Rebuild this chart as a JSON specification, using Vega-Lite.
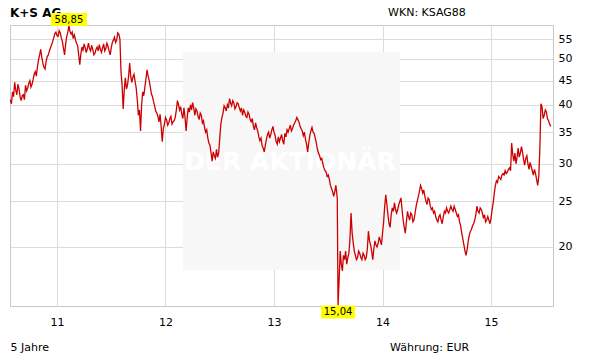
{
  "$schema": "https://vega.github.io/schema/vega-lite/v6.json",
  "width": 543,
  "height": 281,
  "autosize": "none",
  "padding": {"left": 10, "top": 25, "right": 58, "bottom": 58},
  "background": "white",
  "config": {
    "view": {"stroke": "#c8c8c8"},
    "font": "DejaVu Sans",
    "axis": {"labelFont": "DejaVu Sans", "titleFont": "DejaVu Sans", "labelColor": "#000000", "titleColor": "#000000"}
  },
  "datasets": {
    "kurs": [
      {"jahr": 2010.57, "wert": 41.0}, {"jahr": 2010.59, "wert": 42.6}, {"jahr": 2010.61, "wert": 44.6}, {"jahr": 2010.63, "wert": 42.0},
      {"jahr": 2010.65, "wert": 43.2}, {"jahr": 2010.67, "wert": 40.8}, {"jahr": 2010.69, "wert": 42.0}, {"jahr": 2010.71, "wert": 44.0},
      {"jahr": 2010.73, "wert": 43.4}, {"jahr": 2010.75, "wert": 45.0}, {"jahr": 2010.77, "wert": 44.2}, {"jahr": 2010.79, "wert": 46.4},
      {"jahr": 2010.81, "wert": 46.0}, {"jahr": 2010.83, "wert": 49.8}, {"jahr": 2010.85, "wert": 52.4}, {"jahr": 2010.87, "wert": 49.0},
      {"jahr": 2010.89, "wert": 47.6}, {"jahr": 2010.91, "wert": 50.6}, {"jahr": 2010.93, "wert": 52.0}, {"jahr": 2010.95, "wert": 53.6},
      {"jahr": 2010.97, "wert": 55.4}, {"jahr": 2010.99, "wert": 57.0}, {"jahr": 2011.01, "wert": 55.8}, {"jahr": 2011.03, "wert": 56.8},
      {"jahr": 2011.05, "wert": 54.4}, {"jahr": 2011.07, "wert": 51.0}, {"jahr": 2011.09, "wert": 55.8}, {"jahr": 2011.11, "wert": 58.85},
      {"jahr": 2011.13, "wert": 56.4}, {"jahr": 2011.15, "wert": 55.2}, {"jahr": 2011.17, "wert": 55.0}, {"jahr": 2011.19, "wert": 53.4},
      {"jahr": 2011.21, "wert": 48.6}, {"jahr": 2011.23, "wert": 53.0}, {"jahr": 2011.25, "wert": 53.8}, {"jahr": 2011.27, "wert": 51.6},
      {"jahr": 2011.29, "wert": 54.0}, {"jahr": 2011.31, "wert": 52.0}, {"jahr": 2011.33, "wert": 52.4}, {"jahr": 2011.35, "wert": 51.4},
      {"jahr": 2011.37, "wert": 53.0}, {"jahr": 2011.39, "wert": 53.6}, {"jahr": 2011.41, "wert": 51.6}, {"jahr": 2011.43, "wert": 53.8},
      {"jahr": 2011.45, "wert": 52.6}, {"jahr": 2011.47, "wert": 53.2}, {"jahr": 2011.49, "wert": 51.0}, {"jahr": 2011.51, "wert": 54.2},
      {"jahr": 2011.53, "wert": 55.6}, {"jahr": 2011.55, "wert": 54.8}, {"jahr": 2011.57, "wert": 56.4}, {"jahr": 2011.59, "wert": 47.0},
      {"jahr": 2011.61, "wert": 39.2}, {"jahr": 2011.63, "wert": 45.6}, {"jahr": 2011.65, "wert": 44.0}, {"jahr": 2011.67, "wert": 49.0},
      {"jahr": 2011.69, "wert": 44.6}, {"jahr": 2011.71, "wert": 46.4}, {"jahr": 2011.73, "wert": 43.4}, {"jahr": 2011.75, "wert": 38.0},
      {"jahr": 2011.77, "wert": 35.2}, {"jahr": 2011.79, "wert": 42.6}, {"jahr": 2011.81, "wert": 43.6}, {"jahr": 2011.83, "wert": 47.4},
      {"jahr": 2011.85, "wert": 45.0}, {"jahr": 2011.87, "wert": 42.2}, {"jahr": 2011.89, "wert": 40.6}, {"jahr": 2011.91, "wert": 38.8},
      {"jahr": 2011.93, "wert": 37.8}, {"jahr": 2011.95, "wert": 38.2}, {"jahr": 2011.97, "wert": 33.4}, {"jahr": 2011.99, "wert": 36.4},
      {"jahr": 2012.01, "wert": 37.2}, {"jahr": 2012.03, "wert": 36.6}, {"jahr": 2012.05, "wert": 37.8}, {"jahr": 2012.07, "wert": 36.8},
      {"jahr": 2012.09, "wert": 37.6}, {"jahr": 2012.11, "wert": 40.8}, {"jahr": 2012.13, "wert": 39.0}, {"jahr": 2012.15, "wert": 38.2},
      {"jahr": 2012.17, "wert": 39.4}, {"jahr": 2012.19, "wert": 35.2}, {"jahr": 2012.21, "wert": 39.4}, {"jahr": 2012.23, "wert": 40.0},
      {"jahr": 2012.25, "wert": 40.4}, {"jahr": 2012.27, "wert": 38.0}, {"jahr": 2012.29, "wert": 38.8}, {"jahr": 2012.31, "wert": 37.2},
      {"jahr": 2012.33, "wert": 38.0}, {"jahr": 2012.35, "wert": 37.0}, {"jahr": 2012.37, "wert": 35.0}, {"jahr": 2012.39, "wert": 34.0},
      {"jahr": 2012.41, "wert": 32.8}, {"jahr": 2012.43, "wert": 30.4}, {"jahr": 2012.45, "wert": 31.2}, {"jahr": 2012.47, "wert": 32.2},
      {"jahr": 2012.49, "wert": 31.6}, {"jahr": 2012.51, "wert": 36.4}, {"jahr": 2012.53, "wert": 38.4}, {"jahr": 2012.55, "wert": 39.4},
      {"jahr": 2012.57, "wert": 40.0}, {"jahr": 2012.59, "wert": 41.2}, {"jahr": 2012.61, "wert": 39.8}, {"jahr": 2012.63, "wert": 40.4},
      {"jahr": 2012.65, "wert": 39.6}, {"jahr": 2012.67, "wert": 40.2}, {"jahr": 2012.69, "wert": 38.8}, {"jahr": 2012.71, "wert": 38.0},
      {"jahr": 2012.73, "wert": 38.6}, {"jahr": 2012.75, "wert": 37.6}, {"jahr": 2012.77, "wert": 38.2}, {"jahr": 2012.79, "wert": 36.8},
      {"jahr": 2012.81, "wert": 36.0}, {"jahr": 2012.83, "wert": 36.6}, {"jahr": 2012.85, "wert": 35.2}, {"jahr": 2012.87, "wert": 33.6},
      {"jahr": 2012.89, "wert": 32.8}, {"jahr": 2012.91, "wert": 31.8}, {"jahr": 2012.93, "wert": 33.8}, {"jahr": 2012.95, "wert": 35.0},
      {"jahr": 2012.97, "wert": 34.6}, {"jahr": 2012.99, "wert": 36.0}, {"jahr": 2013.01, "wert": 34.4}, {"jahr": 2013.03, "wert": 33.0},
      {"jahr": 2013.05, "wert": 33.4}, {"jahr": 2013.07, "wert": 34.6}, {"jahr": 2013.09, "wert": 33.0}, {"jahr": 2013.11, "wert": 34.2},
      {"jahr": 2013.13, "wert": 35.0}, {"jahr": 2013.15, "wert": 36.2}, {"jahr": 2013.17, "wert": 35.6}, {"jahr": 2013.19, "wert": 36.6},
      {"jahr": 2013.21, "wert": 37.6}, {"jahr": 2013.23, "wert": 36.8}, {"jahr": 2013.25, "wert": 35.6}, {"jahr": 2013.27, "wert": 34.4},
      {"jahr": 2013.29, "wert": 33.8}, {"jahr": 2013.31, "wert": 31.8}, {"jahr": 2013.33, "wert": 34.4}, {"jahr": 2013.35, "wert": 35.8},
      {"jahr": 2013.37, "wert": 34.8}, {"jahr": 2013.39, "wert": 33.2}, {"jahr": 2013.41, "wert": 31.6}, {"jahr": 2013.43, "wert": 30.6},
      {"jahr": 2013.45, "wert": 30.0}, {"jahr": 2013.47, "wert": 29.0}, {"jahr": 2013.49, "wert": 28.2}, {"jahr": 2013.51, "wert": 27.8},
      {"jahr": 2013.53, "wert": 26.6}, {"jahr": 2013.55, "wert": 25.6}, {"jahr": 2013.57, "wert": 27.0}, {"jahr": 2013.583, "wert": 25.4},
      {"jahr": 2013.59, "wert": 15.04}, {"jahr": 2013.61, "wert": 19.6}, {"jahr": 2013.63, "wert": 17.8}, {"jahr": 2013.65, "wert": 18.8},
      {"jahr": 2013.67, "wert": 18.4}, {"jahr": 2013.69, "wert": 19.4}, {"jahr": 2013.71, "wert": 23.6}, {"jahr": 2013.73, "wert": 20.4},
      {"jahr": 2013.75, "wert": 19.2}, {"jahr": 2013.77, "wert": 19.0}, {"jahr": 2013.79, "wert": 19.4}, {"jahr": 2013.81, "wert": 18.8},
      {"jahr": 2013.83, "wert": 19.2}, {"jahr": 2013.85, "wert": 19.0}, {"jahr": 2013.87, "wert": 21.6}, {"jahr": 2013.89, "wert": 20.2},
      {"jahr": 2013.91, "wert": 18.8}, {"jahr": 2013.93, "wert": 20.6}, {"jahr": 2013.95, "wert": 20.0}, {"jahr": 2013.97, "wert": 21.0},
      {"jahr": 2013.99, "wert": 20.2}, {"jahr": 2014.01, "wert": 22.6}, {"jahr": 2014.03, "wert": 25.8}, {"jahr": 2014.05, "wert": 23.4},
      {"jahr": 2014.07, "wert": 22.0}, {"jahr": 2014.09, "wert": 24.2}, {"jahr": 2014.11, "wert": 24.8}, {"jahr": 2014.13, "wert": 23.6},
      {"jahr": 2014.15, "wert": 24.6}, {"jahr": 2014.17, "wert": 25.4}, {"jahr": 2014.19, "wert": 22.8}, {"jahr": 2014.21, "wert": 21.4},
      {"jahr": 2014.23, "wert": 23.8}, {"jahr": 2014.25, "wert": 22.8}, {"jahr": 2014.27, "wert": 23.4}, {"jahr": 2014.29, "wert": 22.8},
      {"jahr": 2014.31, "wert": 24.4}, {"jahr": 2014.33, "wert": 25.6}, {"jahr": 2014.35, "wert": 27.0}, {"jahr": 2014.37, "wert": 26.0},
      {"jahr": 2014.39, "wert": 25.6}, {"jahr": 2014.41, "wert": 24.6}, {"jahr": 2014.43, "wert": 25.2}, {"jahr": 2014.45, "wert": 24.0},
      {"jahr": 2014.47, "wert": 23.6}, {"jahr": 2014.49, "wert": 23.2}, {"jahr": 2014.51, "wert": 22.6}, {"jahr": 2014.53, "wert": 23.4},
      {"jahr": 2014.55, "wert": 22.4}, {"jahr": 2014.57, "wert": 23.8}, {"jahr": 2014.59, "wert": 24.2}, {"jahr": 2014.61, "wert": 23.6},
      {"jahr": 2014.63, "wert": 24.4}, {"jahr": 2014.65, "wert": 23.8}, {"jahr": 2014.67, "wert": 24.0}, {"jahr": 2014.69, "wert": 23.2},
      {"jahr": 2014.71, "wert": 22.6}, {"jahr": 2014.73, "wert": 21.4}, {"jahr": 2014.75, "wert": 20.2}, {"jahr": 2014.77, "wert": 19.2},
      {"jahr": 2014.79, "wert": 20.6}, {"jahr": 2014.81, "wert": 21.6}, {"jahr": 2014.83, "wert": 22.2}, {"jahr": 2014.85, "wert": 22.8},
      {"jahr": 2014.87, "wert": 24.4}, {"jahr": 2014.89, "wert": 23.6}, {"jahr": 2014.91, "wert": 24.0}, {"jahr": 2014.93, "wert": 23.0},
      {"jahr": 2014.95, "wert": 22.6}, {"jahr": 2014.97, "wert": 23.2}, {"jahr": 2014.99, "wert": 22.4}, {"jahr": 2015.01, "wert": 24.0},
      {"jahr": 2015.03, "wert": 26.0}, {"jahr": 2015.05, "wert": 27.6}, {"jahr": 2015.07, "wert": 28.2}, {"jahr": 2015.09, "wert": 27.8},
      {"jahr": 2015.11, "wert": 28.6}, {"jahr": 2015.13, "wert": 29.0}, {"jahr": 2015.15, "wert": 28.8}, {"jahr": 2015.17, "wert": 29.4},
      {"jahr": 2015.19, "wert": 33.2}, {"jahr": 2015.21, "wert": 30.4}, {"jahr": 2015.23, "wert": 30.0}, {"jahr": 2015.25, "wert": 32.4},
      {"jahr": 2015.27, "wert": 31.6}, {"jahr": 2015.29, "wert": 31.8}, {"jahr": 2015.31, "wert": 29.8}, {"jahr": 2015.33, "wert": 31.2},
      {"jahr": 2015.35, "wert": 29.2}, {"jahr": 2015.37, "wert": 29.6}, {"jahr": 2015.39, "wert": 28.4}, {"jahr": 2015.41, "wert": 28.6},
      {"jahr": 2015.43, "wert": 27.0}, {"jahr": 2015.45, "wert": 32.4}, {"jahr": 2015.47, "wert": 39.6}, {"jahr": 2015.49, "wert": 38.0},
      {"jahr": 2015.51, "wert": 38.6}, {"jahr": 2015.53, "wert": 37.0}, {"jahr": 2015.55, "wert": 36.0},

      {"jahr": 2010.58, "wert": 40.2}, {"jahr": 2010.60, "wert": 41.6}, {"jahr": 2010.62, "wert": 43.0}, {"jahr": 2010.64, "wert": 44.2},
      {"jahr": 2010.66, "wert": 41.6}, {"jahr": 2010.68, "wert": 41.8}, {"jahr": 2010.70, "wert": 41.0}, {"jahr": 2010.72, "wert": 42.8},
      {"jahr": 2010.74, "wert": 44.4}, {"jahr": 2010.76, "wert": 43.6}, {"jahr": 2010.78, "wert": 45.2}, {"jahr": 2010.80, "wert": 47.0},
      {"jahr": 2010.82, "wert": 48.2}, {"jahr": 2010.84, "wert": 51.0}, {"jahr": 2010.86, "wert": 50.4}, {"jahr": 2010.88, "wert": 48.0},
      {"jahr": 2010.90, "wert": 49.4}, {"jahr": 2010.92, "wert": 51.0}, {"jahr": 2010.94, "wert": 52.8}, {"jahr": 2010.96, "wert": 54.4},
      {"jahr": 2010.98, "wert": 56.6}, {"jahr": 2011.00, "wert": 56.0}, {"jahr": 2011.02, "wert": 57.4}, {"jahr": 2011.04, "wert": 55.4},
      {"jahr": 2011.06, "wert": 52.6}, {"jahr": 2011.08, "wert": 53.8}, {"jahr": 2011.10, "wert": 57.0}, {"jahr": 2011.12, "wert": 57.2},
      {"jahr": 2011.14, "wert": 57.0}, {"jahr": 2011.16, "wert": 56.2}, {"jahr": 2011.18, "wert": 54.0}, {"jahr": 2011.20, "wert": 51.0},
      {"jahr": 2011.22, "wert": 51.2}, {"jahr": 2011.24, "wert": 52.2}, {"jahr": 2011.26, "wert": 52.8}, {"jahr": 2011.28, "wert": 52.6},
      {"jahr": 2011.30, "wert": 52.6}, {"jahr": 2011.32, "wert": 53.4}, {"jahr": 2011.34, "wert": 51.0}, {"jahr": 2011.36, "wert": 52.4},
      {"jahr": 2011.38, "wert": 52.0}, {"jahr": 2011.40, "wert": 52.4}, {"jahr": 2011.42, "wert": 52.8}, {"jahr": 2011.44, "wert": 52.0},
      {"jahr": 2011.46, "wert": 54.0}, {"jahr": 2011.48, "wert": 52.0}, {"jahr": 2011.50, "wert": 52.8}, {"jahr": 2011.52, "wert": 54.8},
      {"jahr": 2011.54, "wert": 54.2}, {"jahr": 2011.56, "wert": 56.8}, {"jahr": 2011.58, "wert": 55.0}, {"jahr": 2011.60, "wert": 44.0},
      {"jahr": 2011.62, "wert": 43.0}, {"jahr": 2011.64, "wert": 43.2}, {"jahr": 2011.66, "wert": 46.0}, {"jahr": 2011.68, "wert": 45.8},
      {"jahr": 2011.70, "wert": 45.8}, {"jahr": 2011.72, "wert": 44.8}, {"jahr": 2011.74, "wert": 41.0}, {"jahr": 2011.76, "wert": 39.0},
      {"jahr": 2011.78, "wert": 40.0}, {"jahr": 2011.80, "wert": 41.8}, {"jahr": 2011.82, "wert": 45.4}, {"jahr": 2011.84, "wert": 46.0},
      {"jahr": 2011.86, "wert": 43.6}, {"jahr": 2011.88, "wert": 41.6}, {"jahr": 2011.90, "wert": 39.8}, {"jahr": 2011.92, "wert": 38.4},
      {"jahr": 2011.94, "wert": 36.8}, {"jahr": 2011.96, "wert": 36.0}, {"jahr": 2011.98, "wert": 35.6}, {"jahr": 2012.00, "wert": 37.6},
      {"jahr": 2012.02, "wert": 36.2}, {"jahr": 2012.04, "wert": 37.4}, {"jahr": 2012.06, "wert": 36.4}, {"jahr": 2012.08, "wert": 37.0},
      {"jahr": 2012.10, "wert": 39.0}, {"jahr": 2012.12, "wert": 40.0}, {"jahr": 2012.14, "wert": 39.6}, {"jahr": 2012.16, "wert": 37.4},
      {"jahr": 2012.18, "wert": 37.6}, {"jahr": 2012.20, "wert": 37.6}, {"jahr": 2012.22, "wert": 38.6}, {"jahr": 2012.24, "wert": 39.0},
      {"jahr": 2012.26, "wert": 39.4}, {"jahr": 2012.28, "wert": 39.2}, {"jahr": 2012.30, "wert": 37.8}, {"jahr": 2012.32, "wert": 38.4},
      {"jahr": 2012.34, "wert": 36.6}, {"jahr": 2012.36, "wert": 35.8}, {"jahr": 2012.38, "wert": 35.4}, {"jahr": 2012.40, "wert": 33.2},
      {"jahr": 2012.42, "wert": 31.6}, {"jahr": 2012.44, "wert": 31.8}, {"jahr": 2012.46, "wert": 30.8}, {"jahr": 2012.48, "wert": 31.0},
      {"jahr": 2012.50, "wert": 34.0}, {"jahr": 2012.52, "wert": 37.6}, {"jahr": 2012.54, "wert": 39.8}, {"jahr": 2012.56, "wert": 38.8},
      {"jahr": 2012.58, "wert": 39.4}, {"jahr": 2012.60, "wert": 40.4}, {"jahr": 2012.62, "wert": 40.8}, {"jahr": 2012.64, "wert": 39.2},
      {"jahr": 2012.66, "wert": 40.4}, {"jahr": 2012.68, "wert": 39.4}, {"jahr": 2012.70, "wert": 39.4}, {"jahr": 2012.72, "wert": 39.0},
      {"jahr": 2012.74, "wert": 37.8}, {"jahr": 2012.76, "wert": 38.6}, {"jahr": 2012.78, "wert": 37.2}, {"jahr": 2012.80, "wert": 37.4},
      {"jahr": 2012.82, "wert": 35.4}, {"jahr": 2012.84, "wert": 35.8}, {"jahr": 2012.86, "wert": 34.2}, {"jahr": 2012.88, "wert": 34.0},
      {"jahr": 2012.90, "wert": 32.4}, {"jahr": 2012.92, "wert": 32.8}, {"jahr": 2012.94, "wert": 34.6}, {"jahr": 2012.96, "wert": 34.0},
      {"jahr": 2012.98, "wert": 35.4}, {"jahr": 2013.00, "wert": 35.0}, {"jahr": 2013.02, "wert": 33.4}, {"jahr": 2013.04, "wert": 34.2},
      {"jahr": 2013.06, "wert": 34.0}, {"jahr": 2013.08, "wert": 33.6}, {"jahr": 2013.10, "wert": 34.8}, {"jahr": 2013.12, "wert": 35.4},
      {"jahr": 2013.14, "wert": 35.6}, {"jahr": 2013.16, "wert": 35.2}, {"jahr": 2013.18, "wert": 36.2}, {"jahr": 2013.20, "wert": 37.0},
      {"jahr": 2013.22, "wert": 37.2}, {"jahr": 2013.24, "wert": 36.0}, {"jahr": 2013.26, "wert": 35.2}, {"jahr": 2013.28, "wert": 35.0},
      {"jahr": 2013.30, "wert": 33.0}, {"jahr": 2013.32, "wert": 33.2}, {"jahr": 2013.34, "wert": 35.2}, {"jahr": 2013.36, "wert": 35.0},
      {"jahr": 2013.38, "wert": 34.0}, {"jahr": 2013.40, "wert": 32.2}, {"jahr": 2013.42, "wert": 31.2}, {"jahr": 2013.44, "wert": 30.8},
      {"jahr": 2013.46, "wert": 29.4}, {"jahr": 2013.48, "wert": 28.8}, {"jahr": 2013.50, "wert": 28.4}, {"jahr": 2013.52, "wert": 27.0},
      {"jahr": 2013.54, "wert": 26.2}, {"jahr": 2013.56, "wert": 26.2}, {"jahr": 2013.60, "wert": 17.0}, {"jahr": 2013.62, "wert": 18.4},
      {"jahr": 2013.64, "wert": 19.2}, {"jahr": 2013.66, "wert": 19.6}, {"jahr": 2013.68, "wert": 19.0}, {"jahr": 2013.70, "wert": 20.8},
      {"jahr": 2013.72, "wert": 21.4}, {"jahr": 2013.74, "wert": 19.6}, {"jahr": 2013.76, "wert": 18.8}, {"jahr": 2013.78, "wert": 19.6},
      {"jahr": 2013.80, "wert": 19.0}, {"jahr": 2013.82, "wert": 19.4}, {"jahr": 2013.84, "wert": 18.8}, {"jahr": 2013.86, "wert": 19.8},
      {"jahr": 2013.88, "wert": 20.6}, {"jahr": 2013.90, "wert": 19.6}, {"jahr": 2013.92, "wert": 19.8}, {"jahr": 2013.94, "wert": 20.2},
      {"jahr": 2013.96, "wert": 20.4}, {"jahr": 2013.98, "wert": 20.6}, {"jahr": 2014.00, "wert": 21.4}, {"jahr": 2014.02, "wert": 24.4},
      {"jahr": 2014.04, "wert": 24.6}, {"jahr": 2014.06, "wert": 22.4}, {"jahr": 2014.08, "wert": 23.4}, {"jahr": 2014.10, "wert": 23.8},
      {"jahr": 2014.12, "wert": 24.0}, {"jahr": 2014.14, "wert": 24.0}, {"jahr": 2014.16, "wert": 25.0}, {"jahr": 2014.18, "wert": 24.0},
      {"jahr": 2014.20, "wert": 22.0}, {"jahr": 2014.22, "wert": 22.6}, {"jahr": 2014.24, "wert": 23.2}, {"jahr": 2014.26, "wert": 23.6},
      {"jahr": 2014.28, "wert": 22.6}, {"jahr": 2014.30, "wert": 23.6}, {"jahr": 2014.32, "wert": 25.0}, {"jahr": 2014.34, "wert": 26.2},
      {"jahr": 2014.36, "wert": 26.6}, {"jahr": 2014.38, "wert": 26.4}, {"jahr": 2014.40, "wert": 25.0}, {"jahr": 2014.42, "wert": 25.4},
      {"jahr": 2014.44, "wert": 24.4}, {"jahr": 2014.46, "wert": 24.2}, {"jahr": 2014.48, "wert": 23.8}, {"jahr": 2014.50, "wert": 22.8},
      {"jahr": 2014.52, "wert": 23.2}, {"jahr": 2014.54, "wert": 22.8}, {"jahr": 2014.56, "wert": 23.2}, {"jahr": 2014.58, "wert": 23.6},
      {"jahr": 2014.60, "wert": 23.8}, {"jahr": 2014.62, "wert": 24.0}, {"jahr": 2014.64, "wert": 24.0}, {"jahr": 2014.66, "wert": 24.4},
      {"jahr": 2014.68, "wert": 23.6}, {"jahr": 2014.70, "wert": 23.4}, {"jahr": 2014.72, "wert": 22.2}, {"jahr": 2014.74, "wert": 20.8},
      {"jahr": 2014.76, "wert": 19.6}, {"jahr": 2014.78, "wert": 19.8}, {"jahr": 2014.80, "wert": 21.2}, {"jahr": 2014.82, "wert": 21.8},
      {"jahr": 2014.84, "wert": 22.4}, {"jahr": 2014.86, "wert": 23.4}, {"jahr": 2014.88, "wert": 23.8}, {"jahr": 2014.90, "wert": 24.2},
      {"jahr": 2014.92, "wert": 23.6}, {"jahr": 2014.94, "wert": 23.4}, {"jahr": 2014.96, "wert": 22.8}, {"jahr": 2014.98, "wert": 22.8},
      {"jahr": 2015.00, "wert": 23.0}, {"jahr": 2015.02, "wert": 24.8}, {"jahr": 2015.04, "wert": 27.0}, {"jahr": 2015.06, "wert": 27.4},
      {"jahr": 2015.08, "wert": 28.0}, {"jahr": 2015.10, "wert": 28.4}, {"jahr": 2015.12, "wert": 28.4}, {"jahr": 2015.14, "wert": 28.6},
      {"jahr": 2015.16, "wert": 29.2}, {"jahr": 2015.18, "wert": 29.0}, {"jahr": 2015.20, "wert": 31.4}, {"jahr": 2015.22, "wert": 31.6},
      {"jahr": 2015.24, "wert": 31.0}, {"jahr": 2015.26, "wert": 31.0}, {"jahr": 2015.28, "wert": 32.6}, {"jahr": 2015.30, "wert": 30.6},
      {"jahr": 2015.32, "wert": 30.8}, {"jahr": 2015.34, "wert": 30.0}, {"jahr": 2015.36, "wert": 30.2}, {"jahr": 2015.38, "wert": 29.0},
      {"jahr": 2015.40, "wert": 29.2}, {"jahr": 2015.42, "wert": 27.8}, {"jahr": 2015.44, "wert": 28.2}, {"jahr": 2015.46, "wert": 40.2},
      {"jahr": 2015.48, "wert": 37.4}, {"jahr": 2015.50, "wert": 39.0}, {"jahr": 2015.52, "wert": 37.4}, {"jahr": 2015.54, "wert": 36.4}
    ],
    "extrem": [
      {"art": "max", "jahr": 2011.11, "wert": 58.85, "label": "58,85"},
      {"art": "min", "jahr": 2013.59, "wert": 15.04, "label": "15,04"}
    ]
  },
  "layer": [
    {
      "data": {"values": [{}]},
      "mark": {"type": "rect", "fill": "#f7f7f7"},
      "encoding": {
        "x": {"datum": 2012.161, "type": "quantitative"},
        "x2": {"datum": 2014.161},
        "y": {"datum": 51.7, "type": "quantitative"},
        "y2": {"datum": 17.88}
      }
    },
    {
      "data": {"values": [{}]},
      "mark": {"type": "text", "text": "DER AKTIONÄR", "font": "DejaVu Sans", "fontWeight": "bold", "fontSize": 25, "fill": "#ffffff", "align": "center", "baseline": "middle"},
      "encoding": {
        "x": {"datum": 2013.148, "type": "quantitative"},
        "y": {"datum": 30.3, "type": "quantitative"}
      }
    },
    {
      "data": {"values": [{}]},
      "mark": {"type": "text", "text": "K+S AG", "fontSize": 12, "fontWeight": "bold", "font": "DejaVu Sans", "color": "#000000", "align": "left", "baseline": "middle"},
      "encoding": {
        "x": {"datum": 2010.567, "type": "quantitative"},
        "y": {"datum": 62.55, "type": "quantitative"}
      }
    },
    {
      "data": {"name": "kurs"},
      "mark": {"type": "line", "color": "#cc0000", "strokeWidth": 1.3, "interpolate": "linear"},
      "encoding": {
        "x": {
          "field": "jahr", "type": "quantitative",
          "scale": {"domain": [2010.567, 2015.571], "nice": false, "zero": false},
          "axis": {
            "values": [2011, 2012, 2013, 2014, 2015],
            "labelExpr": "substring(toString(datum.value), 2)",
            "grid": true, "gridColor": "#dcdcdc", "ticks": false, "domain": false,
            "labelPadding": 10, "labelFontSize": 11, "labelFlush": false,
            "title": "5 Jahre", "titleAnchor": "start", "titleAlign": "left",
            "titleFontWeight": "normal", "titleFontSize": 11, "titlePadding": 14
          }
        },
        "y": {
          "field": "wert", "type": "quantitative",
          "scale": {"type": "log", "domain": [15, 59], "nice": false},
          "axis": {
            "orient": "right", "values": [20, 25, 30, 35, 40, 45, 50, 55], "format": "d",
            "grid": true, "gridColor": "#dcdcdc", "ticks": false, "domain": false,
            "labelPadding": 5, "labelFontSize": 11, "title": null
          }
        }
      }
    },
    {
      "data": {"name": "extrem"},
      "transform": [{"filter": "datum.art == 'max'"}],
      "mark": {"type": "tick", "orient": "horizontal", "size": 36, "thickness": 13, "color": "#ffff00", "opacity": 1, "yOffset": -6},
      "encoding": {
        "x": {"field": "jahr", "type": "quantitative"},
        "y": {"field": "wert", "type": "quantitative"}
      }
    },
    {
      "data": {"name": "extrem"},
      "transform": [{"filter": "datum.art == 'max'"}],
      "mark": {"type": "text", "fontSize": 10, "font": "DejaVu Sans", "color": "#000000", "align": "center", "baseline": "middle", "yOffset": -6},
      "encoding": {
        "x": {"field": "jahr", "type": "quantitative"},
        "y": {"field": "wert", "type": "quantitative"},
        "text": {"field": "label"}
      }
    },
    {
      "data": {"name": "extrem"},
      "transform": [{"filter": "datum.art == 'min'"}],
      "mark": {"type": "tick", "orient": "horizontal", "size": 34, "thickness": 13, "color": "#ffff00", "opacity": 1, "yOffset": 6.5},
      "encoding": {
        "x": {"field": "jahr", "type": "quantitative"},
        "y": {"field": "wert", "type": "quantitative"}
      }
    },
    {
      "data": {"name": "extrem"},
      "transform": [{"filter": "datum.art == 'min'"}],
      "mark": {"type": "text", "fontSize": 10, "font": "DejaVu Sans", "color": "#000000", "align": "center", "baseline": "middle", "yOffset": 6.5},
      "encoding": {
        "x": {"field": "jahr", "type": "quantitative"},
        "y": {"field": "wert", "type": "quantitative"},
        "text": {"field": "label"}
      }
    },
    {
      "data": {"values": [{}]},
      "mark": {"type": "text", "text": "WKN: KSAG88", "fontSize": 11, "font": "DejaVu Sans", "color": "#000000", "align": "left", "baseline": "middle"},
      "encoding": {
        "x": {"datum": 2014.051, "type": "quantitative"},
        "y": {"datum": 62.55, "type": "quantitative"}
      }
    },
    {
      "data": {"values": [{}]},
      "mark": {"type": "text", "text": "Währung: EUR", "fontSize": 11, "font": "DejaVu Sans", "color": "#000000", "align": "left", "baseline": "middle"},
      "encoding": {
        "x": {"datum": 2014.069, "type": "quantitative"},
        "y": {"datum": 12.22, "type": "quantitative"}
      }
    }
  ]
}
